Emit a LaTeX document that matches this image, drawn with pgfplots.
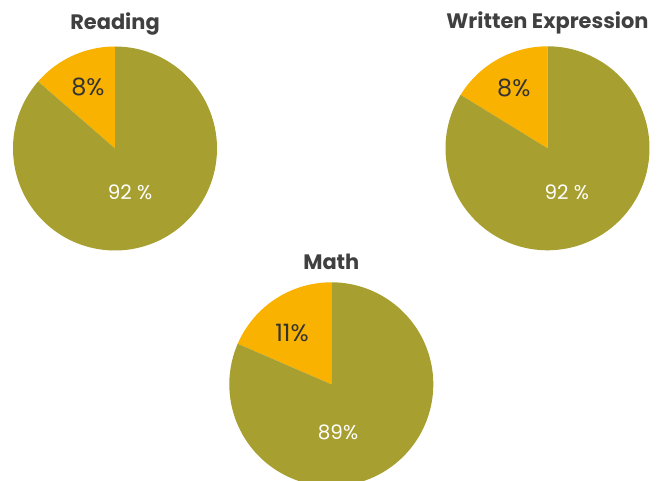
\documentclass[border=0pt]{standalone}
\usepackage{fontspec}
\setmainfont{Poppins}
\usepackage{pgfplots}
\pgfplotsset{compat=1.18}
\definecolor{olivepie}{HTML}{A7A030}
\definecolor{amberpie}{HTML}{F9B200}
\definecolor{titlegray}{HTML}{404040}
\definecolor{labeldark}{HTML}{333333}
\pgfplotsset{pieax/.style={scale only axis, width=204bp, height=204bp,
  xmin=-1, xmax=1, ymin=-1, ymax=1, hide axis, anchor=center, clip=false}}
% slice end angles (start at 90 deg, counter-clockwise)
\def\readEnd{138.95}
\def\writEnd{148.4}
\def\mathEnd{156.6}
\begin{document}
\begin{tikzpicture}
\path[use as bounding box] (0bp,0bp) rectangle (663bp,481bp);
\clip (0bp,0bp) rectangle (663bp,481bp);
% Reading
\begin{axis}[pieax, at={(115bp,332.5bp)}]
\addplot[fill=amberpie, draw=none, domain=90:\readEnd, samples=40, variable=\t] ({cos(t)},{sin(t)}) -- (axis cs:0,0) -- cycle;
\addplot[fill=olivepie, draw=none, domain=\readEnd:450, samples=200, variable=\t] ({cos(t)},{sin(t)}) -- (axis cs:0,0) -- cycle;
\node[text=labeldark, font=\fontsize{24}{26}\selectfont] at (axis cs:-0.265,0.6) {8\%};
\node[text=white, font=\fontsize{20}{22}\selectfont] at (axis cs:0.147,-0.427) {92 \%};
\node[text=titlegray, font=\fontsize{21}{24}\selectfont\bfseries, anchor=base] at (axis cs:0,1.162) {Reading};
\end{axis}
% Written Expression
\begin{axis}[pieax, at={(547.5bp,332.7bp)}]
\addplot[fill=amberpie, draw=none, domain=90:\writEnd, samples=40, variable=\t] ({cos(t)},{sin(t)}) -- (axis cs:0,0) -- cycle;
\addplot[fill=olivepie, draw=none, domain=\writEnd:450, samples=200, variable=\t] ({cos(t)},{sin(t)}) -- (axis cs:0,0) -- cycle;
\node[text=labeldark, font=\fontsize{24}{26}\selectfont] at (axis cs:-0.33,0.59) {8\%};
\node[text=white, font=\fontsize{20}{22}\selectfont] at (axis cs:0.19,-0.43) {92 \%};
\node[text=titlegray, font=\fontsize{21}{24}\selectfont\bfseries, anchor=base] at (axis cs:0,1.17) {Written Expression};
\end{axis}
% Math
\begin{axis}[pieax, at={(331.3bp,96.7bp)}]
\addplot[fill=amberpie, draw=none, domain=90:\mathEnd, samples=40, variable=\t] ({cos(t)},{sin(t)}) -- (axis cs:0,0) -- cycle;
\addplot[fill=olivepie, draw=none, domain=\mathEnd:450, samples=200, variable=\t] ({cos(t)},{sin(t)}) -- (axis cs:0,0) -- cycle;
\node[text=labeldark, font=\fontsize{24}{26}\selectfont] at (axis cs:-0.385,0.50) {11\%};
\node[text=white, font=\fontsize{20}{22}\selectfont] at (axis cs:0.066,-0.47) {89\%};
\node[text=titlegray, font=\fontsize{21}{24}\selectfont\bfseries, anchor=base] at (axis cs:0,1.13) {Math};
\end{axis}
\end{tikzpicture}
\end{document}
